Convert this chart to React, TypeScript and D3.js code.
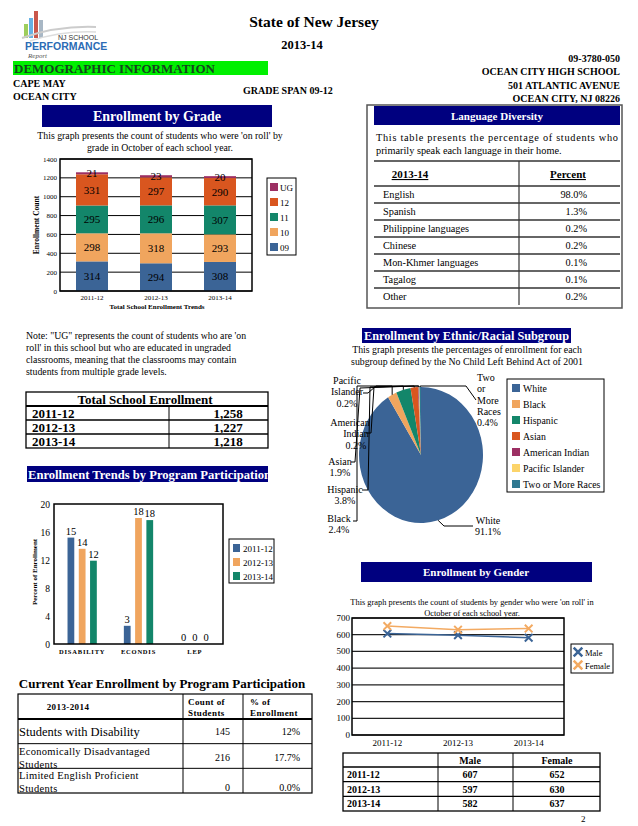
import React from 'react';
import * as d3 from 'd3';

const SERIF = '"Liberation Serif", "Times New Roman", serif';
const NAVY = '#00007f';

// ---------- data ----------
const gradeYears = ['2011-12', '2012-13', '2013-14'];
const gradeKeys = ['09', '10', '11', '12', 'UG'];
const grade09 = [314, 294, 308];
const grade10 = [298, 318, 293];
const grade11 = [295, 296, 307];
const grade12 = [331, 297, 290];
const gradeUG = [21, 23, 20];
const gradeColors = ['#3b6496', '#f0a55e', '#13866a', '#d9561f', '#9c2f63'];
const gradeTicks = [0, 200, 400, 600, 800, 1000, 1200, 1400];

const languages = ['English', 'Spanish', 'Philippine languages', 'Chinese', 'Mon-Khmer languages', 'Tagalog', 'Other'];
const languagePct = ['98.0%', '1.3%', '0.2%', '0.2%', '0.1%', '0.1%', '0.2%'];

const totalYears = ['2011-12', '2012-13', '2013-14'];
const totalEnrollment = ['1,258', '1,227', '1,218'];

const programCats = ['DISABILITY', 'ECONDIS', 'LEP'];
const programYears = ['2011-12', '2012-13', '2013-14'];
const prog2011 = [15.2, 2.6, 0];
const prog2012 = [13.6, 18.0, 0];
const prog2013 = [11.9, 17.7, 0];
const programColors = ['#3b6496', '#f0a55e', '#13866a'];
const programTicks = [0, 4, 8, 12, 16, 20];

const ethnicGroups = ['White', 'Black', 'Hispanic', 'Asian', 'American Indian', 'Pacific Islander', 'Two or More Races'];
const ethnicPct = [91.1, 2.4, 3.8, 1.9, 0.2, 0.2, 0.4];
const ethnicColors = ['#3b6496', '#f0a55e', '#13866a', '#d9561f', '#9c2f63', '#fcd46a', '#2f7891'];

const genderYears = ['2011-12', '2012-13', '2013-14'];
const maleCounts = [607, 597, 582];
const femaleCounts = [652, 630, 637];
const genderTicks = [0, 100, 200, 300, 400, 500, 600, 700];

const currentPrograms = [['Students with Disability'], ['Economically Disadvantaged', 'Students'], ['Limited English Proficient', 'Students']];
const currentCounts = [145, 216, 0];
const currentPct = ['12%', '17.7%', '0.0%'];

// ---------- components ----------
function Header() {
  return (
    <g fontFamily={SERIF}>
      {/* logo */}
      <g>
        <rect x={24} y={24} width={4} height={14} fill="#8dc63f" opacity={0.85} />
        <rect x={29} y={18} width={4} height={20} fill="#4aa3df" opacity={0.85} />
        <rect x={34} y={11} width={4} height={27} fill="#c0392b" opacity={0.85} />
        <rect x={39} y={20} width={4} height={18} fill="#9ab" opacity={0.85} />
        <path d="M22,38 C45,30 70,26 96,27" fill="none" stroke="#ccc" strokeWidth={2} />
        <path d="M30,41 C55,33 75,31 96,32" fill="none" stroke="#ddd" strokeWidth={1.5} />
        <text x={58} y={40} fontSize={7} fontFamily="Liberation Sans, sans-serif" fill="#333">NJ SCHOOL</text>
        <text x={25} y={50} fontSize={10.5} fontWeight="bold" fontFamily="Liberation Sans, sans-serif" fill="#2b6cb5">PERFORMANCE</text>
        <text x={28} y={58} fontSize={7} fontStyle="italic" fill="#555">Report</text>
      </g>
      <text x={314} y={27} fontSize={15.5} fontWeight="bold" textAnchor="middle">State of New Jersey</text>
      <text x={302} y={49} fontSize={12.5} fontWeight="bold" textAnchor="middle">2013-14</text>
      <rect x={13} y={61} width={255} height={14} fill="#00f000" />
      <text x={14} y={73} fontSize={13} fontWeight="bold" fill="#14451e">DEMOGRAPHIC INFORMATION</text>
      <text x={13} y={87} fontSize={10} fontWeight="bold">CAPE MAY</text>
      <text x={13} y={100} fontSize={10} fontWeight="bold">OCEAN CITY</text>
      <text x={243} y={94} fontSize={10} fontWeight="bold">GRADE SPAN 09-12</text>
      <g fontSize={10} fontWeight="bold" textAnchor="end">
        <text x={620} y={62}>09-3780-050</text>
        <text x={620} y={75}>OCEAN CITY HIGH SCHOOL</text>
        <text x={620} y={89}>501 ATLANTIC AVENUE</text>
        <text x={620} y={102}>OCEAN CITY, NJ 08226</text>
      </g>
    </g>
  );
}

function GradeChart() {
  const x = d3.scaleBand<string>().domain(gradeYears).range([60, 252]).paddingInner(0.5).paddingOuter(0.25);
  const y = d3.scaleLinear().domain([0, 1400]).range([291, 159]);
  const rows = gradeYears.map((yr, i) => ({ year: yr, '09': grade09[i], '10': grade10[i], '11': grade11[i], '12': grade12[i], UG: gradeUG[i] }));
  const series = d3.stack<any>().keys(gradeKeys)(rows);
  const legendOrder = [...gradeKeys].reverse();
  return (
    <g fontFamily={SERIF}>
      <rect x={42} y={105} width={230} height={22} fill={NAVY} />
      <text x={157} y={121} fontSize={14} fontWeight="bold" fill="#fff" textAnchor="middle">Enrollment by Grade</text>
      <text x={160} y={139} fontSize={9.8} textAnchor="middle">This graph presents the count of students who were 'on roll' by</text>
      <text x={160} y={151} fontSize={9.8} textAnchor="middle">grade in October of each school year.</text>
      {gradeTicks.map(t => (
        <g key={t}>
          <line x1={60} x2={252} y1={y(t)} y2={y(t)} stroke="#000" strokeWidth={1} />
          <text x={57} y={y(t) + 2.5} fontSize={7} textAnchor="end">{t}</text>
        </g>
      ))}
      {series.map((s, si) => s.map((d, i) => (
        <g key={si + '-' + i}>
          <rect x={x(gradeYears[i])} width={x.bandwidth()} y={y(d[1])} height={y(d[0]) - y(d[1])} fill={gradeColors[si]} />
          <text x={(x(gradeYears[i]) as number) + x.bandwidth() / 2} y={y((d[0] + d[1]) / 2) + 4} fontSize={11} textAnchor="middle">{d[1] - d[0]}</text>
        </g>
      )))}
      <rect x={60} y={159} width={192} height={132} fill="none" stroke="#000" strokeWidth={1.5} />
      {gradeYears.map(g => (
        <text key={g} x={(x(g) as number) + x.bandwidth() / 2} y={300} fontSize={7} textAnchor="middle">{g}</text>
      ))}
      <text x={157} y={309} fontSize={7} fontWeight="bold" textAnchor="middle">Total School Enrollment Trends</text>
      <text transform="translate(39,225) rotate(-90)" fontSize={7.5} fontWeight="bold" textAnchor="middle">Enrollment Count</text>
      <rect x={267} y={178} width={29} height={77} fill="#fff" stroke="#000" strokeWidth={1} />
      {legendOrder.map((k, i) => (
        <g key={k}>
          <rect x={270} y={183 + i * 15} width={8} height={8} fill={gradeColors[gradeKeys.indexOf(k)]} />
          <text x={280} y={191 + i * 15} fontSize={9}>{k}</text>
        </g>
      ))}
    </g>
  );
}

function LanguageTable() {
  const rowY = d3.scaleBand<string>().domain(languages).range([186, 305]);
  return (
    <g fontFamily={SERIF}>
      <rect x={367} y={105} width={255} height={203} fill="none" stroke="#555" strokeWidth={1.5} />
      <rect x={374} y={106} width={246} height={19} fill={NAVY} />
      <text x={497} y={120} fontSize={11} fontWeight="bold" fill="#fff" textAnchor="middle">Language Diversity</text>
      <text x={376} y={141} fontSize={10.3} textLength={242} lengthAdjust="spacing">This table presents the percentage of students who</text>
      <text x={376} y={154} fontSize={10.3}>primarily speak each language in their home.</text>
      <line x1={374} x2={620} y1={161} y2={161} stroke="#333" strokeWidth={1.5} />
      <line x1={519} x2={519} y1={161} y2={305} stroke="#333" strokeWidth={1.2} />
      <text x={410} y={178} fontSize={11} fontWeight="bold" textAnchor="middle" style={{ textDecoration: 'underline' }}>2013-14</text>
      <text x={568} y={178} fontSize={11} fontWeight="bold" textAnchor="middle" style={{ textDecoration: 'underline' }}>Percent</text>
      {languages.map((l, i) => (
        <g key={l}>
          <line x1={374} x2={620} y1={rowY(l) as number} y2={rowY(l) as number} stroke="#333" strokeWidth={1.3} />
          <text x={383} y={(rowY(l) as number) + 12} fontSize={10.3}>{l}</text>
          <text x={587} y={(rowY(l) as number) + 12} fontSize={10.3} textAnchor="end">{languagePct[i]}</text>
        </g>
      ))}
    </g>
  );
}

function NoteAndTotals() {
  const noteLines = [
    'Note: "UG" represents the count of students who are \'on',
    "roll' in this school but who are educated in ungraded",
    'classrooms, meaning that the classrooms may contain',
    'students from multiple grade levels.',
  ];
  const rowY = d3.scaleBand<string>().domain(totalYears).range([406, 448]);
  return (
    <g fontFamily={SERIF}>
      {noteLines.map((l, i) => <text key={i} x={26} y={339 + i * 12} fontSize={9.8}>{l}</text>)}
      <rect x={26} y={392} width={242} height={56} fill="none" stroke="#000" strokeWidth={1.3} />
      <text x={145} y={404} fontSize={13} fontWeight="bold" textAnchor="middle">Total School Enrollment</text>
      <line x1={26} x2={268} y1={406} y2={406} stroke="#000" strokeWidth={2} />
      <line x1={169} x2={169} y1={406} y2={448} stroke="#000" strokeWidth={1} />
      {totalYears.map((yr, i) => (
        <g key={yr}>
          {i > 0 && <line x1={26} x2={268} y1={rowY(yr) as number} y2={rowY(yr) as number} stroke="#000" strokeWidth={1.5} />}
          <text x={32} y={(rowY(yr) as number) + 12} fontSize={13} fontWeight="bold">{yr}</text>
          <text x={228} y={(rowY(yr) as number) + 12} fontSize={13} fontWeight="bold" textAnchor="middle">{totalEnrollment[i]}</text>
        </g>
      ))}
    </g>
  );
}

function ProgramChart() {
  const x0 = d3.scaleBand<string>().domain(programCats).range([54, 223]);
  const x1 = d3.scaleBand<string>().domain(programYears).range([x0.bandwidth() * 0.2, x0.bandwidth() * 0.8]).paddingInner(0.4).paddingOuter(0.2);
  const y = d3.scaleLinear().domain([0, 20]).range([644, 504]);
  const seriesVals = [prog2011, prog2012, prog2013];
  return (
    <g fontFamily={SERIF}>
      <defs>
        <clipPath id="trendClip"><rect x={27} y={465} width={241} height={18} /></clipPath>
      </defs>
      <rect x={27} y={466} width={241} height={16} fill={NAVY} />
      <text x={28} y={478.5} fontSize={12.6} fontWeight="bold" fill="#fff" clipPath="url(#trendClip)">Enrollment Trends by Program Participation</text>
      {programTicks.map(t => (
        <text key={t} x={50} y={y(t) + 3.5} fontSize={9.5} textAnchor="end">{t}</text>
      ))}
      {programCats.map((c, ci) => seriesVals.map((vals, si) => {
        const bx = (x0(c) as number) + (x1(programYears[si]) as number);
        return (
          <g key={c + si}>
            <rect x={bx} width={x1.bandwidth()} y={y(vals[ci])} height={y(0) - y(vals[ci])} fill={programColors[si]} />
            <text x={bx + x1.bandwidth() / 2} y={y(vals[ci]) - 3} fontSize={10.5} textAnchor="middle">{Math.round(vals[ci])}</text>
          </g>
        );
      }))}
      <rect x={54} y={504} width={169} height={140} fill="none" stroke="#000" strokeWidth={1.5} />
      {programCats.map(c => (
        <text key={c} x={(x0(c) as number) + x0.bandwidth() / 2} y={654} fontSize={6.5} fontWeight="bold" textAnchor="middle" letterSpacing={0.8}>{c}</text>
      ))}
      <text transform="translate(37,572) rotate(-90)" fontSize={7} fontWeight="bold" textAnchor="middle">Percent of Enrollment</text>
      <rect x={229} y={539} width={45} height={44} fill="#fff" stroke="#000" strokeWidth={1} />
      {programYears.map((yr, i) => (
        <g key={yr}>
          <rect x={233} y={544 + i * 14} width={7} height={8} fill={programColors[i]} />
          <text x={243} y={551.5 + i * 14} fontSize={9}>{yr}</text>
        </g>
      ))}
    </g>
  );
}

function CurrentTable() {
  const rowY = d3.scaleBand<string>().domain(['0', '1', '2']).range([719, 793]);
  return (
    <g fontFamily={SERIF}>
      <text x={162} y={688} fontSize={13} fontWeight="bold" textAnchor="middle">Current Year Enrollment by Program Participation</text>
      <rect x={18} y={694} width={294} height={99} fill="none" stroke="#000" strokeWidth={1.2} />
      <line x1={18} x2={312} y1={719} y2={719} stroke="#000" strokeWidth={1.8} />
      <line x1={183} x2={183} y1={694} y2={793} stroke="#000" strokeWidth={1} />
      <line x1={243} x2={243} y1={694} y2={793} stroke="#000" strokeWidth={1} />
      <text x={68} y={710} fontSize={9} fontWeight="bold" textAnchor="middle" letterSpacing={0.4}>2013-2014</text>
      <text x={188} y={705} fontSize={9} fontWeight="bold" letterSpacing={0.4}>Count of</text>
      <text x={188} y={716} fontSize={9} fontWeight="bold" letterSpacing={0.4}>Students</text>
      <text x={250} y={705} fontSize={9} fontWeight="bold" letterSpacing={0.4}>% of</text>
      <text x={250} y={716} fontSize={9} fontWeight="bold" letterSpacing={0.4}>Enrollment</text>
      {currentPrograms.map((lines, i) => {
        const top = rowY(String(i)) as number;
        return (
          <g key={i}>
            {i > 0 && <line x1={18} x2={312} y1={top} y2={top} stroke="#000" strokeWidth={1} />}
            {lines.length === 1
              ? <text x={19} y={top + 17} fontSize={12.5}>{lines[0]}</text>
              : lines.map((l, j) => <text key={j} x={19} y={top + 11 + j * 13} fontSize={10.5} letterSpacing={0.3}>{l}</text>)}
            <text x={230} y={top + (i === 0 ? 16 : i === 1 ? 17 : 23)} fontSize={10} textAnchor="end">{currentCounts[i]}</text>
            <text x={300} y={top + (i === 0 ? 16 : i === 1 ? 17 : 23)} fontSize={10} textAnchor="end">{currentPct[i]}</text>
          </g>
        );
      })}
    </g>
  );
}

function EthnicPie() {
  const cx = 421, cy = 455, rx = 62, ry = 68, R = 65;
  const arcs = d3.pie<number>().sort(null).value(d => d)(ethnicPct);
  const arc = d3.arc<d3.PieArcDatum<number>>().innerRadius(0).outerRadius(R);
  const edge = (i: number) => {
    const a = (arcs[i].startAngle + arcs[i].endAngle) / 2;
    return [cx + rx * Math.sin(a), cy - ry * Math.cos(a)];
  };
  const topY = 386;
  const layout = [
    { lines: ['White'], x: 488, y: 524, anchor: 'middle', pts: [[473, 526], [444, 526]] },
    { lines: ['Black'], x: 339, y: 522, anchor: 'middle', pts: [[353, 521], [357, 521], [357, topY]] },
    { lines: ['Hispanic'], x: 345, y: 493, anchor: 'middle', pts: [[362, 490], [368, 490], [370, topY + 1]] },
    { lines: ['Asian'], x: 340, y: 465, anchor: 'middle', pts: [[351, 462], [355, 462], [360, topY + 2]] },
    { lines: ['American', 'Indian'], x: 350, y: 426, anchor: 'middle', pts: [[366, 433], [371, 433], [374, topY + 1]] },
    { lines: ['Pacific', 'Islander'], x: 347, y: 384, anchor: 'middle', pts: [[363, 393], [368, 393], [376, topY]] },
    { lines: ['Two', 'or', 'More', 'Races'], x: 477, y: 381, anchor: 'start', pts: [[476, 400], [466, topY]] },
  ];
  return (
    <g fontFamily={SERIF}>
      <rect x={362} y={328} width={209} height={15} fill={NAVY} />
      <text x={364} y={340} fontSize={13} fontWeight="bold" fill="#fff" textLength={205} lengthAdjust="spacingAndGlyphs">Enrollment by Ethnic/Racial Subgroup</text>
      <text x={467} y={353} fontSize={9.8} textAnchor="middle">This graph presents the percentages of enrollment for each</text>
      <text x={467} y={365} fontSize={9.8} textAnchor="middle">subgroup defined by the No Child Left Behind Act of 2001</text>
      <g transform={`translate(${cx},${cy}) scale(${rx / R},${ry / R})`}>
        {arcs.map((a, i) => <path key={i} d={arc(a) as string} fill={ethnicColors[i]} />)}
      </g>
      {layout.map((L, i) => {
        const [ex, ey] = edge(i);
        const pts = [...L.pts];
        if (i !== 0) pts.push([ex, topY]);
        pts.push([ex, ey]);
        const lines = [...L.lines, `${ethnicPct[i].toFixed(1)}%`];
        return (
          <g key={i}>
            <polyline points={pts.map(p => p.join(',')).join(' ')} fill="none" stroke="#000" strokeWidth={1} />
            {lines.map((t, j) => (
              <text key={j} x={L.x + (L.lines.length === 2 && j > 0 && i === 4 ? 6 : 0)} y={L.y + j * 11.3} fontSize={10} textAnchor={L.anchor as any}>{t}</text>
            ))}
          </g>
        );
      })}
      <rect x={507} y={379} width={97} height={113} fill="#fff" stroke="#000" strokeWidth={1} />
      {ethnicGroups.map((g, i) => (
        <g key={g}>
          <rect x={512} y={384 + i * 16} width={8} height={8} fill={ethnicColors[i]} />
          <text x={523} y={392 + i * 16} fontSize={9.8}>{g}</text>
        </g>
      ))}
    </g>
  );
}

function GenderChart() {
  const x = d3.scalePoint<string>().domain(genderYears).range([352, 564]).padding(0.5);
  const y = d3.scaleLinear().domain([0, 700]).range([735, 618]);
  const line = d3.line<number>().x((_, i) => x(genderYears[i]) as number).y(d => y(d));
  const sym = d3.symbol().type(d3.symbolX).size(40);
  const series = [
    { name: 'Male', vals: maleCounts, color: '#3b6496' },
    { name: 'Female', vals: femaleCounts, color: '#f3aa62' },
  ];
  const rowY = d3.scaleBand<string>().domain(genderYears).range([767, 811]);
  return (
    <g fontFamily={SERIF}>
      <rect x={361} y={562} width={231} height={20} fill={NAVY} />
      <text x={476} y={576} fontSize={11} fontWeight="bold" fill="#fff" textAnchor="middle">Enrollment by Gender</text>
      <text x={472} y={605} fontSize={8.4} textAnchor="middle">This graph presents the count of students by gender who were 'on roll' in</text>
      <text x={472} y={616} fontSize={8.4} textAnchor="middle">October of each school year.</text>
      {genderTicks.map(t => (
        <g key={t}>
          <line x1={352} x2={564} y1={y(t)} y2={y(t)} stroke="#222" strokeWidth={1.2} />
          <text x={350} y={y(t) + 3} fontSize={9} textAnchor="end">{t}</text>
        </g>
      ))}
      {series.map(s => (
        <g key={s.name}>
          <path d={line(s.vals) as string} fill="none" stroke={s.color} strokeWidth={1.5} />
          {s.vals.map((v, i) => (
            <path key={i} d={sym() as string} transform={`translate(${x(genderYears[i])},${y(v)})`} fill="none" stroke={s.color} strokeWidth={2} />
          ))}
        </g>
      ))}
      <rect x={352} y={618} width={212} height={117} fill="none" stroke="#000" strokeWidth={1.5} />
      {genderYears.map(g => (
        <text key={g} x={x(g) as number} y={746} fontSize={9} textAnchor="middle">{g}</text>
      ))}
      <rect x={571} y={644} width={42} height={29} fill="#fff" stroke="#000" strokeWidth={1} />
      {series.map((s, i) => (
        <g key={s.name}>
          <path d={d3.symbol().type(d3.symbolX).size(50)() as string} transform={`translate(578,${652 + i * 13})`} stroke={s.color} strokeWidth={2.5} fill="none" />
          <text x={585} y={655.5 + i * 13} fontSize={8.5}>{s.name}</text>
        </g>
      ))}
      <rect x={343} y={753} width={257} height={58} fill="none" stroke="#000" strokeWidth={1.3} />
      <line x1={343} x2={600} y1={767} y2={767} stroke="#000" strokeWidth={1.5} />
      <line x1={438} x2={438} y1={753} y2={811} stroke="#000" strokeWidth={1} />
      <line x1={513} x2={513} y1={753} y2={811} stroke="#000" strokeWidth={1} />
      <text x={470} y={764} fontSize={10} fontWeight="bold" textAnchor="middle">Male</text>
      <text x={557} y={764} fontSize={10} fontWeight="bold" textAnchor="middle">Female</text>
      {genderYears.map((g, i) => {
        const top = rowY(g) as number;
        return (
          <g key={g}>
            {i > 0 && <line x1={343} x2={600} y1={top} y2={top} stroke="#000" strokeWidth={1.3} />}
            <text x={347} y={top + 11} fontSize={10} fontWeight="bold">{g}</text>
            <text x={470} y={top + 11} fontSize={10} fontWeight="bold" textAnchor="middle">{maleCounts[i]}</text>
            <text x={557} y={top + 11} fontSize={10} fontWeight="bold" textAnchor="middle">{femaleCounts[i]}</text>
          </g>
        );
      })}
      <text x={581} y={822} fontSize={9}>2</text>
    </g>
  );
}

export default function App() {
  return (
    <svg width={638} height={826} style={{ position: 'absolute', left: 0, top: 0, background: '#fff' }} fontFamily={SERIF}>
      <rect x={0} y={0} width={638} height={826} fill="#fff" />
      <Header />
      <GradeChart />
      <LanguageTable />
      <NoteAndTotals />
      <ProgramChart />
      <CurrentTable />
      <EthnicPie />
      <GenderChart />
    </svg>
  );
}
